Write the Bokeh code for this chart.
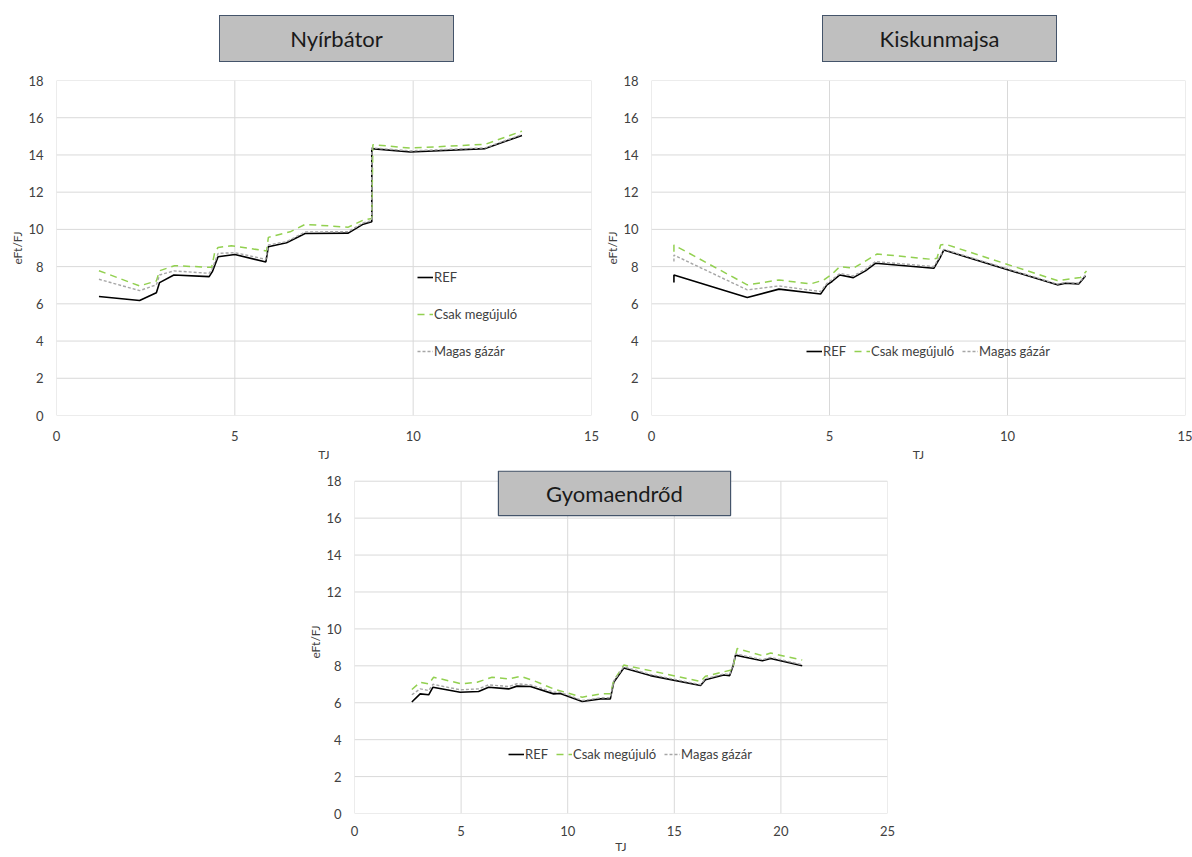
from bokeh.plotting import figure
from bokeh.models import Range1d, FixedTicker, Legend, LegendItem, Spacer, Div
from bokeh.layouts import row, column
from bokeh.core.properties import value
from bokeh.embed import file_html
from bokeh.resources import INLINE

FONT = "Lato"
TXT = "#404040"
GRID = "#d9d9d9"

series_names = ["REF", "Csak megújuló", "Magas gázár"]
titles = ["Nyírbátor", "Kiskunmajsa", "Gyomaendrőd"]
y_ticks = [0, 2, 4, 6, 8, 10, 12, 14, 16, 18]
x_ticks_15 = [0, 5, 10, 15]
x_ticks_25 = [0, 5, 10, 15, 20, 25]

# --- Nyírbátor ---
ny_x_ref = [1.19, 2.33, 2.8, 2.89, 3.29, 4.28, 4.37, 4.53, 5.0, 5.87, 5.94, 6.45, 6.97, 8.18, 8.6, 8.84, 8.84, 9.92, 12.02, 13.05]
ny_ref = [6.39, 6.18, 6.6, 7.14, 7.55, 7.46, 7.73, 8.53, 8.65, 8.25, 9.07, 9.28, 9.78, 9.8, 10.28, 10.41, 14.34, 14.16, 14.34, 15.05]
ny_x_csak = [1.19, 2.33, 2.8, 2.89, 3.31, 4.35, 4.44, 4.53, 4.9, 5.89, 5.94, 6.55, 6.97, 8.18, 8.6, 8.84, 8.87, 9.92, 12.02, 13.05]
ny_csak = [7.78, 6.96, 7.23, 7.78, 8.05, 7.96, 8.8, 9.03, 9.12, 8.84, 9.57, 9.87, 10.27, 10.12, 10.5, 10.59, 14.55, 14.37, 14.57, 15.28]
ny_x_gaz = ny_x_ref
ny_gaz = [7.32, 6.71, 7.02, 7.55, 7.77, 7.64, 7.9, 8.71, 8.75, 8.39, 9.16, 9.34, 9.86, 9.88, 10.35, 10.47, 14.38, 14.22, 14.38, 15.1]

# --- Kiskunmajsa ---
ki_x_ref = [0.63, 0.63, 2.69, 3.58, 4.75, 4.93, 5.07, 5.29, 5.67, 6.01, 6.29, 7.93, 8.12, 8.21, 11.4, 11.63, 12.0, 12.19]
ki_ref = [7.14, 7.55, 6.34, 6.79, 6.53, 7.02, 7.2, 7.55, 7.41, 7.77, 8.18, 7.91, 8.53, 8.89, 7.02, 7.11, 7.07, 7.5]
ki_x_csak = [0.63, 0.63, 2.69, 3.58, 4.47, 4.84, 5.07, 5.29, 5.67, 6.34, 7.88, 8.02, 8.12, 8.26, 11.4, 12.05, 12.22]
ki_csak = [8.8, 9.16, 7.02, 7.28, 7.07, 7.28, 7.6, 8.0, 7.91, 8.68, 8.39, 8.45, 9.16, 9.2, 7.25, 7.41, 7.77]
ki_x_gaz = ki_x_ref
ki_gaz = [8.27, 8.62, 6.75, 6.96, 6.66, 7.1, 7.3, 7.63, 7.5, 7.85, 8.27, 8.0, 8.6, 8.93, 7.06, 7.15, 7.11, 7.55]

# --- Gyomaendrőd ---
gy_x_ref = [2.69, 3.08, 3.48, 3.68, 4.96, 5.82, 6.29, 7.23, 7.62, 8.25, 9.34, 9.65, 10.68, 11.54, 12.0, 12.16, 12.63, 13.88, 16.23, 16.46, 17.32, 17.6, 17.76, 17.87, 19.13, 19.52, 21.0]
gy_ref = [6.04, 6.48, 6.43, 6.84, 6.57, 6.61, 6.84, 6.75, 6.9, 6.88, 6.48, 6.5, 6.07, 6.21, 6.21, 7.11, 7.88, 7.47, 6.93, 7.25, 7.5, 7.47, 8.0, 8.58, 8.27, 8.4, 8.0]
gy_x_csak = [2.69, 3.08, 3.48, 3.71, 5.04, 5.75, 6.45, 7.23, 7.78, 8.4, 9.34, 10.68, 11.54, 12.0, 12.16, 12.63, 13.88, 16.23, 16.46, 17.72, 17.95, 19.13, 19.52, 21.0]
gy_csak = [6.72, 7.11, 7.02, 7.38, 7.02, 7.11, 7.38, 7.29, 7.43, 7.2, 6.75, 6.3, 6.48, 6.48, 7.2, 8.04, 7.74, 7.15, 7.43, 7.79, 8.94, 8.55, 8.69, 8.31]
gy_x_gaz = gy_x_ref
gy_gaz = [6.43, 6.75, 6.66, 7.0, 6.7, 6.75, 6.97, 6.88, 7.03, 6.97, 6.57, 6.57, 6.12, 6.27, 6.27, 7.18, 7.95, 7.53, 6.98, 7.3, 7.56, 7.53, 8.08, 8.65, 8.33, 8.46, 8.06]

styles = [
    dict(line_color="black", line_width=1.6, line_dash="solid"),
    dict(line_color="#92d050", line_width=1.5, line_dash="7 5"),
    dict(line_color="#a6a6a6", line_width=1.4, line_dash="3 2"),
]


def make_chart(xmax, xticks, data, width, height, ml, mr, mt, mb, ymax,
               leg_loc, leg_orient, leg_spacing, xl_standoff=15, xt_standoff=3):
    p = figure(width=width, height=height, min_border_left=ml, min_border_right=mr,
               min_border_top=mt, min_border_bottom=mb,
               x_range=Range1d(0, xmax), y_range=Range1d(0, ymax),
               output_backend="svg", toolbar_location=None, tools="")
    p.outline_line_color = None
    p.background_fill_color = "white"
    p.border_fill_color = "white"
    p.xgrid.visible = False
    p.ygrid.visible = False
    for ax in (p.xaxis[0], p.yaxis[0]):
        ax.axis_line_color = None
        ax.major_tick_line_color = None
        ax.minor_tick_line_color = None
        ax.major_tick_out = 0
        ax.major_tick_in = 0
        ax.minor_tick_out = 0
        ax.minor_tick_in = 0
        ax.major_label_text_font = FONT
        ax.major_label_text_font_size = "13px"
        ax.major_label_text_color = TXT
        ax.axis_label_text_font = FONT
        ax.axis_label_text_font_size = "12px"
        ax.axis_label_text_font_style = "normal"
        ax.axis_label_text_color = TXT
    p.xaxis.ticker = FixedTicker(ticks=xticks)
    p.yaxis.ticker = FixedTicker(ticks=y_ticks)
    p.yaxis.major_label_standoff = 13
    p.yaxis.axis_label = "eFt/FJ"
    p.yaxis.axis_label_standoff = 0
    p.xaxis.major_label_standoff = xl_standoff
    p.xaxis.axis_label = "TJ"
    p.xaxis.axis_label_standoff = xt_standoff

    # gridlines bounded to the value area
    p.segment(x0=xticks, y0=[y_ticks[0]] * len(xticks), x1=xticks, y1=[y_ticks[-1]] * len(xticks),
              line_color=GRID, line_width=1)
    p.segment(x0=[xticks[0]] * len(y_ticks), y0=y_ticks, x1=[xticks[-1]] * len(y_ticks), y1=y_ticks,
              line_color=GRID, line_width=1)

    items = []
    for name, (xs, ys), st in zip(series_names, data, styles):
        r = p.line(xs, ys, **st)
        items.append(LegendItem(label=name, renderers=[r]))
    leg = Legend(items=items, location=leg_loc, orientation=leg_orient,
                 background_fill_alpha=0, border_line_alpha=0,
                 padding=0, margin=0, spacing=leg_spacing,
                 glyph_width=16, glyph_height=20, label_height=20,
                 label_standoff=1, label_text_font=FONT,
                 label_text_font_size="13px", label_text_color=TXT)
    p.add_layout(leg)
    return p


def title_div(text, width, box_left):
    html = ('<div style="margin-left:%dpx;margin-top:15px;width:235px;height:47px;'
            'box-sizing:border-box;background:#bfbfbf;border:1px solid #44546a;'
            'font-family:Lato;font-size:22px;line-height:45px;text-align:center;'
            'color:#1a1a1a;">%s</div>' % (box_left, text))
    return Div(text=html, width=width, height=62, margin=0)


p1 = make_chart(15, x_ticks_15,
                [(ny_x_ref, ny_ref), (ny_x_csak, ny_csak), (ny_x_gaz, ny_gaz)],
                599, 402, 56, 8, 18, 48, 18, (361, 54), "vertical", 17)
p2 = make_chart(15, x_ticks_15,
                [(ki_x_ref, ki_ref), (ki_x_csak, ki_csak), (ki_x_gaz, ki_gaz)],
                593, 402, 52, 7, 18, 48, 18, (155, 54), "horizontal", 8)

# chart 3: value area extended slightly upward to hold the title box
Y3_MAX = 18.58
p3 = make_chart(25, x_ticks_25,
                [(gy_x_ref, gy_ref), (gy_x_csak, gy_csak), (gy_x_gaz, gy_gaz)],
                631, 392, 88, 10, 6, 43, Y3_MAX, (154, 49), "horizontal", 8,
                xl_standoff=12, xt_standoff=0)
box3_left, box3_right, box3_bottom = 6.75, 17.64, 16.14
p3.quad(left=[box3_left], right=[box3_right], bottom=[box3_bottom], top=[Y3_MAX - 0.03],
        fill_color="#bfbfbf", line_color="#44546a", line_width=1.2)
p3.text(x=[(box3_left + box3_right) / 2], y=[(box3_bottom + Y3_MAX) / 2], text=[titles[2]],
        text_font=value(FONT), text_font_size="22px", text_color="#1a1a1a",
        text_align="center", text_baseline="middle")

d1 = title_div(titles[0], 599, 219)
d2 = title_div(titles[1], 593, 223)

layout = column(row(column(d1, p1), column(d2, p2)),
                row(Spacer(width=266, height=10), p3))
open("out.html", "w").write(file_html(layout, INLINE))
